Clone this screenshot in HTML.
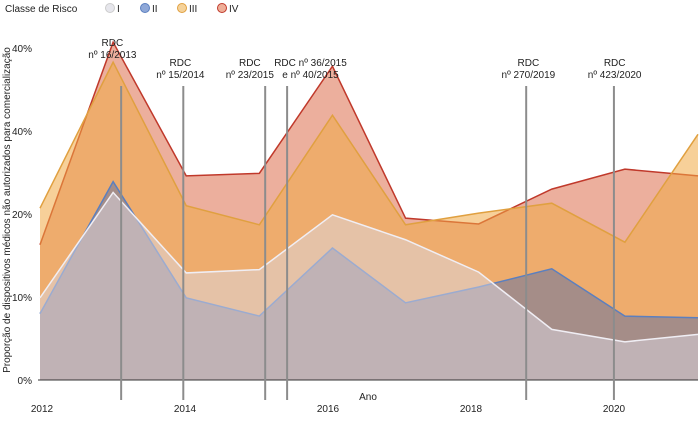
<!DOCTYPE html>
<html><head><meta charset="utf-8"><style>
body{margin:0;background:#fff;font-family:"Liberation Sans",sans-serif;}
svg text{font-family:"Liberation Sans",sans-serif;font-size:10px;fill:#222;}
</style></head><body>
<svg id="chart" width="700" height="428" viewBox="0 0 700 428" xmlns="http://www.w3.org/2000/svg">
<g id="legend">
<text x="5" y="12">Classe de Risco</text>
<g><circle cx="110" cy="8" r="4.5" fill="#e6e6ec" stroke="#ccc"/><text x="117" y="12">I</text></g>
<g><circle cx="145" cy="8" r="4.5" fill="#8fa8d8" stroke="#5b7fbf"/><text x="152" y="12">II</text></g>
<g><circle cx="182" cy="8" r="4.5" fill="#f5d29a" stroke="#e0a040"/><text x="189" y="12">III</text></g>
<g><circle cx="222" cy="8" r="4.5" fill="#eeae98" stroke="#c0392b"/><text x="229" y="12">IV</text></g>
</g>
<g id="plot"></g>
<line x1="38" y1="380" x2="698" y2="380" stroke="#333" stroke-width="1"/>
<g id="axes"></g>
<text x="368" y="400" text-anchor="middle">Ano</text>
<text transform="translate(10,210) rotate(-90)" text-anchor="middle">Proporção de dispositivos médicos não autorizados para comercialização</text>
</svg>
<script>
const years=[2012,2013,2014,2015,2016,2017,2018,2019,2020,2021];
const seriesIV=[16.3,40.7,24.6,24.9,37.8,19.5,18.8,23.0,25.4,24.6];
const seriesIII=[20.7,38.3,21.0,18.7,31.9,18.7,20.1,21.3,16.6,29.6];
const seriesII=[8.0,23.9,9.9,7.7,15.9,9.3,11.2,13.4,7.7,7.5];
const seriesI=[9.9,22.6,12.9,13.3,19.9,16.9,13.0,6.1,4.6,5.5];
const yTicks=[0,10,20,30,40];
const yTickLabels=["0%","10%","20%","40%","40%"];
const xTicks=[2012,2014,2016,2018,2020];
const annYears=[2013.11,2013.96,2015.08,2015.38,2018.65,2019.85];
const annLabelYears=[2012.99,2013.92,2014.87,2015.7,2018.68,2019.86];
const annRaised=[true,false,false,false,false,false];
const annLine1=["RDC","RDC","RDC","RDC nº 36/2015","RDC","RDC"];
const annLine2=["nº 16/2013","nº 15/2014","nº 23/2015","e nº 40/2015","nº 270/2019","nº 423/2020"];
const NS="http://www.w3.org/2000/svg";
const x=v=>40+(v-2012)*(658/9);
const xt=v=>42+(v-2012)*71.5;
const y=v=>380-v*8.3;
const plot=document.getElementById('plot'),axes=document.getElementById('axes');
function mk(t,a,p){const e=document.createElementNS(NS,t);for(const k in a)e.setAttribute(k,a[k]);p.appendChild(e);return e;}
const defs=[["iv",seriesIV,"rgba(217,96,59,0.5)","#c0392b"],["iii",seriesIII,"rgba(240,170,70,0.55)","#e0a040"],["ii",seriesII,"rgba(92,110,164,0.5)","#5b7fbf"],["i",seriesI,"rgba(220,215,225,0.5)","#f0eef4"]];
defs.forEach(([n,s,f,st])=>{
  const pts=s.map((v,i)=>x(years[i])+","+y(v)).join(" ");
  const a=mk('polygon',{points:x(years[0])+","+y(0)+" "+pts+" "+x(years[years.length-1])+","+y(0),fill:f},plot);
  
  
  const l=mk('polyline',{points:pts,fill:"none",stroke:st,"stroke-width":1.5},plot);
  
  
});
yTicks.forEach((t,i)=>{const e=mk('text',{x:32,y:y(t)+4,"text-anchor":"end"},axes);e.textContent=yTickLabels[i];

});
xTicks.forEach(t=>{const e=mk('text',{x:xt(t),y:412,"text-anchor":"middle"},axes);e.textContent=t;

});
annYears.forEach((a,i)=>{const g=mk('g',{},axes);


mk('line',{x1:x(a),y1:86,x2:x(a),y2:400,stroke:"#8c8c8c","stroke-width":2},g);
const ty=annRaised[i]?46:66;
const lx=x(annLabelYears[i]);
const t1=mk('text',{x:lx,y:ty,"text-anchor":"middle"},g);t1.textContent=annLine1[i];
const t2=mk('text',{x:lx,y:ty+12,"text-anchor":"middle"},g);t2.textContent=annLine2[i];});
</script>
</body></html>
